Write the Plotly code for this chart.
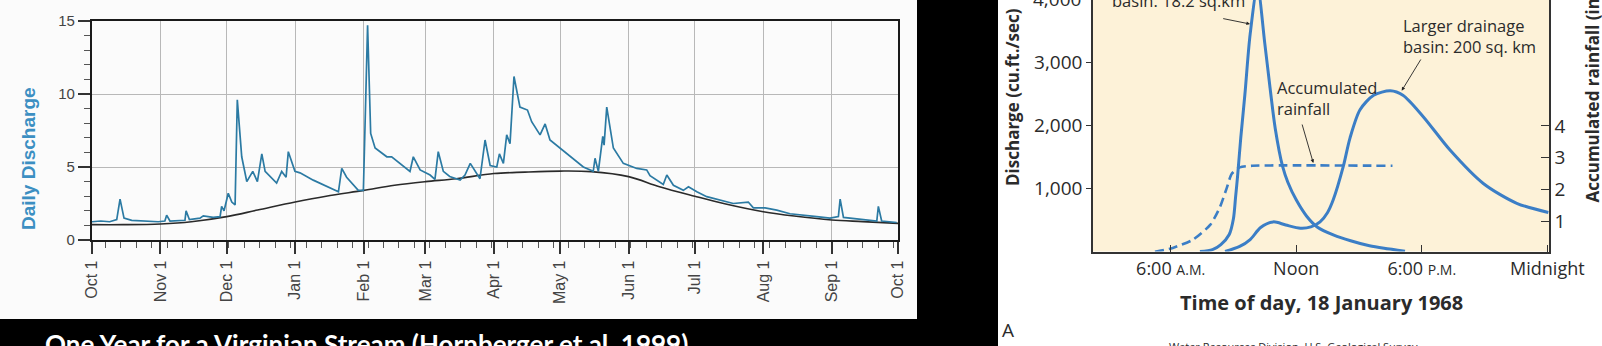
import plotly.graph_objects as go
import pandas as pd

W, H = 1602, 346
def px(x): return x / W
def py(y): return 1 - y / H

# ---------------- Left chart data (days since Oct 1) ----------------
month_labels = ["Oct 1", "Nov 1", "Dec 1", "Jan 1", "Feb 1", "Mar 1", "Apr 1",
                "May 1", "Jun 1", "Jul 1", "Aug 1", "Sep 1", "Oct 1"]
month_dates = ["1998-10-01", "1998-11-01", "1998-12-01", "1999-01-01", "1999-02-01",
               "1999-03-01", "1999-04-01", "1999-05-01", "1999-06-01", "1999-07-01",
               "1999-08-01", "1999-09-01", "1999-10-01"]

dis_day = [0, 4, 8, 11.2, 12.7, 14.5, 18, 25, 30, 33, 33.8, 35.3, 42.1, 42.6, 44.1,
           48.9, 50.4, 54.9, 58, 58.7, 59.8, 61.7, 63.3, 64.8, 65.8, 67.8, 70.1, 72.8,
           74.9, 76.9, 78.4, 83.6, 85.9, 87.9, 88.9, 91.9, 94.2, 100.2, 111.6, 113.1,
           115.3, 120.6, 122.9, 124.8, 126.2, 128.2, 130.4, 133.5, 135.7, 144, 145.5,
           148.6, 153.1, 155.3, 156.8, 159.1, 162, 166.7, 168.9, 171.3, 175.7, 178,
           180.3, 183.3, 184.5, 186.3, 187.8, 189.3, 191.1, 193.8, 197.2, 199.1, 202.9,
           205.2, 207.4, 215, 222.5, 227, 227.8, 229.3, 231.3, 231.9, 233.1, 236.1,
           240.6, 246.7, 251.2, 252.7, 258.7, 260.3, 263.3, 267.8, 270.1, 273.9, 278.4,
           290.4, 297.2, 299.5, 304.8, 310.1, 316.1, 328.2, 334.2, 338, 338.8, 340.3,
           346.3, 355.4, 356.1, 357.6, 364.4]
dis_val = [1.25, 1.3, 1.25, 1.4, 2.8, 1.5, 1.35, 1.3, 1.25, 1.3, 1.7, 1.3, 1.35, 2.0, 1.4,
           1.5, 1.65, 1.55, 1.6, 2.3, 2.0, 3.2, 2.6, 2.4, 9.6, 5.7, 4.0, 4.7,
           4.0, 5.9, 4.7, 3.9, 4.7, 4.3, 6.05, 4.7, 4.6, 4.1, 3.3, 4.9,
           4.3, 3.4, 3.4, 14.7, 7.3, 6.3, 6.05, 5.7, 5.7, 4.7, 5.7,
           4.8, 4.45, 4.15, 6.05, 4.7, 4.35, 4.1, 4.45, 5.25, 4.2, 6.85,
           5.1, 5.0, 5.9, 5.25, 7.2, 6.6, 11.2, 9.1, 8.9, 8.1, 7.2,
           7.95, 6.85, 5.9, 5.0, 4.7, 5.6, 4.7, 7.1, 6.5, 9.1, 6.3,
           5.25, 4.9, 4.8, 4.4, 3.8, 4.45, 3.75, 3.4, 3.65, 3.3, 2.97,
           2.5, 2.6, 2.2, 2.2, 2.05, 1.8, 1.6, 1.5, 1.6, 2.8, 1.55,
           1.45, 1.3, 2.3, 1.3, 1.2]

base_day = [0, 14, 31, 45, 61, 75, 92, 106, 123, 137, 151, 165, 182, 196, 212, 226,
            243, 257, 273, 287, 304, 318, 335, 349, 365]
base_val = [1.05, 1.05, 1.1, 1.25, 1.6, 2.05, 2.6, 3.0, 3.4, 3.75, 4.0, 4.2, 4.55, 4.65,
            4.72, 4.68, 4.34, 3.65, 3.0, 2.47, 1.94, 1.64, 1.37, 1.26, 1.14]

start = pd.Timestamp("1998-10-01")
dis_x = start + pd.to_timedelta(dis_day, unit="D")
base_x = start + pd.to_timedelta(base_day, unit="D")

# ---------------- Right chart data (hour of day) ----------------
small_h = [7.4, 8.0, 8.4, 8.8, 9.0, 9.1, 9.2, 9.35, 9.55, 9.8, 10.15, 10.5, 10.75, 11.0,
           11.35, 11.6, 12.0, 12.5, 13.0, 13.8, 14.6, 15.5, 16.2, 17.2]
small_q = [0, 30, 110, 270, 520, 850, 1200, 1800, 2500, 3450, 4200, 3300, 2600, 1950,
           1350, 1100, 820, 560, 390, 260, 170, 90, 50, 5]

large_h = [8.6, 9.3, 9.8, 10.3, 10.9, 11.5, 12.2, 12.7, 13.14, 13.5, 13.77, 14.25, 14.57,
           15.05, 15.7, 16.5, 17.1, 18.07, 19.35, 20.94, 22.54, 24.05]
large_q = [0, 80, 190, 380, 470, 420, 370, 390, 470, 620, 820, 1350, 1800,
           2250, 2480, 2550, 2480, 2140, 1610, 1080, 765, 620]

rain_h = [5.25, 6.1, 7.07, 7.9, 8.36, 8.68, 8.92, 9.3, 9.9, 16.6]
rain_in = [0.05, 0.17, 0.43, 0.9, 1.46, 2.05, 2.5, 2.7, 2.75, 2.75]

time_vals = [6, 12, 18, 24]
time_text = ["6:00 <span style='font-size:14px'>A.M.</span>", "Noon",
             "6:00 <span style='font-size:14px'>P.M.</span>", "Midnight"]
q_vals = [1000, 2000, 3000]
r_vals = [1, 2, 3, 4]

fig = go.Figure()
fig.add_trace(go.Scatter(x=base_x, y=base_val, mode="lines", line=dict(color="#2a2a2a", width=1.6, shape="spline"),
                         xaxis="x", yaxis="y", hoverinfo="skip"))
fig.add_trace(go.Scatter(x=dis_x, y=dis_val, mode="lines", line=dict(color="#2b7aa3", width=1.7),
                         xaxis="x", yaxis="y", hoverinfo="skip"))

blue = "#3b7ec6"
fig.add_trace(go.Scatter(x=small_h, y=small_q, mode="lines", line=dict(color=blue, width=3, shape="spline", smoothing=0.8),
                         xaxis="x2", yaxis="y2"))
fig.add_trace(go.Scatter(x=large_h, y=large_q, mode="lines", line=dict(color=blue, width=3, shape="spline", smoothing=0.8),
                         xaxis="x2", yaxis="y2"))
fig.add_trace(go.Scatter(x=rain_h, y=rain_in, mode="lines", line=dict(color=blue, width=2.6, dash="9px,5px", shape="spline", smoothing=0.6),
                         xaxis="x2", yaxis="y3"))

font_l = "Liberation Sans, Arial, sans-serif"
font_r = "Open Sans, sans-serif"
font_t = "Lato, sans-serif"
dark = "#2b2b2b"

fig.update_layout(
    width=W, height=H, margin=dict(l=0, r=0, t=0, b=0, pad=0, autoexpand=False),
    paper_bgcolor="#000000", plot_bgcolor="rgba(0,0,0,0)", showlegend=False,
    xaxis=dict(domain=[px(92), px(898)], anchor="y", type="date", automargin=False,
               range=["1998-10-01", "1999-10-01"], tickmode="array",
               tickvals=month_dates, ticktext=month_labels, tickangle=-90,
               ticks="outside", ticklen=12, tickwidth=1.5, tickcolor="#333",
               showgrid=True, gridcolor="#b8b8b8", gridwidth=1,
               showline=True, mirror=True, linecolor="#1a1a1a", linewidth=2.2,
               tickfont=dict(family=font_l, size=16, color="#444"),
               minor=dict(ticks="outside", ticklen=6, tickwidth=1.2, tickcolor="#555",
                          dtick=7 * 86400000, tick0="1998-10-07", showgrid=False),
               zeroline=False),
    yaxis=dict(domain=[py(240), py(21)], anchor="x", range=[0, 15], automargin=False,
               tickmode="array", tickvals=[0, 5, 10, 15],
               ticks="outside", ticklen=12, tickwidth=1.5, tickcolor="#333",
               showgrid=True, gridcolor="#b8b8b8", gridwidth=1,
               showline=True, mirror=True, linecolor="#1a1a1a", linewidth=2.2,
               tickfont=dict(family=font_l, size=15, color="#444"),
               minor=dict(ticks="outside", ticklen=6, tickwidth=1.2, tickcolor="#555", dtick=1, showgrid=False),
               zeroline=False),
    xaxis2=dict(domain=[px(1093), px(1549)], anchor="y2", range=[2.29, 24.08], automargin=False,
                tickmode="array", tickvals=time_vals, ticktext=time_text,
                ticks="inside", ticklen=7, tickwidth=1.3, tickcolor="#333",
                showgrid=False, zeroline=False, showline=True, linecolor="#333", linewidth=1.5,
                tickfont=dict(family=font_r, size=18, color=dark)),
    yaxis2=dict(domain=[py(251.5), 1], anchor="x2", range=[0, 3992], automargin=False,
                tickmode="array", tickvals=q_vals, ticktext=["1,000", "2,000", "3,000"],
                ticks="outside", ticklen=5, tickwidth=1.3, tickcolor="#333",
                showgrid=False, zeroline=False, showline=True, linecolor="#333", linewidth=1.5,
                tickfont=dict(family=font_r, size=19, color=dark)),
    yaxis3=dict(overlaying="y2", anchor="x2", side="right", range=[0.057, 7.958], automargin=False,
                tickmode="array", tickvals=r_vals,
                ticks="inside", ticklen=8, tickwidth=1.3, tickcolor="#333",
                showgrid=False, zeroline=False, showline=True, linecolor="#333", linewidth=1.5,
                tickfont=dict(family=font_r, size=19, color=dark)),
)

shapes = [
    dict(type="rect", xref="paper", yref="paper", x0=0, x1=px(917), y0=py(319), y1=1,
         fillcolor="#fbfbfb", line=dict(width=0), layer="below"),
    dict(type="rect", xref="paper", yref="paper", x0=px(998), x1=1, y0=0, y1=1,
         fillcolor="#ffffff", line=dict(width=0), layer="below"),
    dict(type="rect", xref="paper", yref="paper", x0=px(1093), x1=px(1549), y0=py(251.5), y1=1,
         fillcolor="#fdf2d8", line=dict(width=0), layer="below"),
]
fig.update_layout(shapes=shapes)

ann = []
def note(text, x, y, size, color=dark, family=font_r, angle=0, xa="center", ya="middle", align="center"):
    ann.append(dict(text=text, x=px(x), y=py(y), xref="paper", yref="paper", xanchor=xa, yanchor=ya,
                    textangle=angle, align=align, showarrow=False,
                    font=dict(family=family, size=size, color=color)))

note("<b>Daily Discharge</b>", 28, 159, 19, color="#3c8fc2", family=font_l, angle=-90)
note("<b>One Year for a Virginian Stream (Hornberger et al. 1999)</b>", 43, 326, 26, color="#ffffff",
     family=font_t, xa="left", ya="top")
note("4,000", 1083, -1, 19, xa="right")
note("<b>Discharge (cu.ft./sec)</b>", 1012, 97, 17, angle=-90)
note("<b>Accumulated rainfall (in.)</b>", 1592, 205, 17, angle=-90, ya="bottom")
note("<b>Time of day, 18 January 1968</b>", 1321, 302, 20)
note("A", 1008, 330, 19)
note("Water Resources Division, U.S. Geological Survey", 1167, 337, 11, xa="left", ya="top")
note("Smaller drainage<br>basin: 18.2 sq.km", 1110, 14, 16.5, xa="left", ya="bottom", align="left")
note("Larger drainage<br>basin: 200 sq. km", 1401, 36, 16.5, xa="left", align="left")
note("Accumulated<br>rainfall", 1275, 98, 16.5, xa="left", align="left")

# pointer arrows (head, tail in pixels)
for (hx, hy, tx, ty) in [(1250, 24, 1221.7, 18.3), (1401.7, 90.7, 1421.7, 58), (1313.3, 163, 1301.7, 123)]:
    ann.append(dict(text="", x=px(hx), y=py(hy), xref="paper", yref="paper", ax=tx - hx, ay=ty - hy,
                    showarrow=True, arrowhead=2, arrowsize=0.8, arrowwidth=0.9, arrowcolor="#222"))
fig.update_layout(annotations=ann)

fig.write_html("out.html")
